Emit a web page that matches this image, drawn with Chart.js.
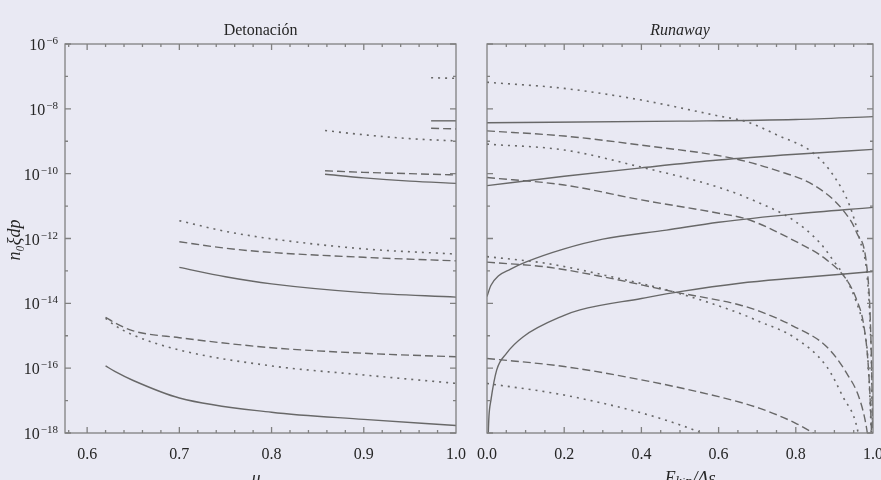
<!DOCTYPE html>
<html>
<head>
<meta charset="utf-8">
<script src="https://cdn.jsdelivr.net/npm/chart.js@4.4.1/dist/chart.umd.min.js"></script>
<style>
  html, body { margin: 0; padding: 0; background: #e9e9f3; }
  body { width: 881px; height: 480px; position: relative; overflow: hidden; }
  canvas { position: absolute; top: 0; }
  #left { left: 0; }
  #right { left: 470px; }
</style>
</head>
<body>
<canvas id="left" width="470" height="480"></canvas>
<canvas id="right" width="411" height="480"></canvas>
<script>
// y values are stored as log10 of the plotted quantity
const yDecades = [-18, -17, -16, -15, -14, -13, -12, -11, -10, -9, -8, -7, -6];

// Detonación panel
const detTicks = [0.6, 0.7, 0.8, 0.9, 1.0];
const detX_A = [0.62, 0.63, 0.65, 0.7, 0.8, 0.9, 1.0];
const detSolidA = [-15.93, -16.1, -16.38, -16.92, -17.36, -17.58, -17.77];
const detDashA = [-14.43, -14.6, -14.85, -15.06, -15.37, -15.54, -15.65];
const detDotA = [-14.46, -14.68, -14.98, -15.44, -15.93, -16.21, -16.47];

const detX_B = [0.7, 0.75, 0.8, 0.9, 1.0];
const detDotB = [-11.45, -11.78, -12.01, -12.32, -12.48];
const detDashB = [-12.10, -12.30, -12.43, -12.58, -12.69];
const detSolidB = [-12.89, -13.18, -13.40, -13.67, -13.81];

const detX_C = [0.858, 0.9, 0.95, 1.0];
const detDotC = [-8.67, -8.80, -8.92, -8.99];
const detDashC = [-9.91, -9.96, -10.0, -10.04];
const detSolidC = [-10.02, -10.13, -10.23, -10.30];

const detX_D = [0.973, 1.0];
const detDotD = [-7.04, -7.06];
const detSolidD = [-8.37, -8.37];
const detDashD = [-8.60, -8.62];

// Runaway panel
const runTicks = [0.0, 0.2, 0.4, 0.6, 0.8, 1.0];
const runSolid1X = [0, 0.5, 0.8, 1.0];
const runSolid1 = [-8.43, -8.38, -8.33, -8.24];
const runSolid2X = [0, 0.2, 0.4, 0.6, 0.8, 1.0];
const runSolid2 = [-10.37, -10.08, -9.82, -9.58, -9.40, -9.25];
const runSolid3X = [0, 0.01, 0.03, 0.06, 0.1, 0.2, 0.3, 0.465, 0.6, 0.8, 1.0];
const runSolid3 = [-13.79, -13.45, -13.15, -12.95, -12.73, -12.32, -12.02, -11.74, -11.50, -11.24, -11.04];
const runSolid4X = [0.0005, 0.005, 0.01, 0.025, 0.05, 0.094, 0.2, 0.241, 0.4, 0.5, 0.655, 0.8, 1.0];
const runSolid4 = [-19, -17.5, -17.0, -16.06, -15.55, -15.03, -14.37, -14.2, -13.85, -13.64, -13.38, -13.22, -13.02];

const runDot1X = [0, 0.2, 0.4, 0.6, 0.673, 0.75, 0.846, 0.9, 0.94, 0.966, 0.984, 0.992, 0.997, 0.9995];
const runDot1 = [-7.18, -7.37, -7.73, -8.22, -8.40, -8.80, -9.37, -10.10, -11.0, -12.05, -13.06, -14.5, -16.5, -19];
const runDash1X = [0, 0.2, 0.4, 0.638, 0.75, 0.846, 0.922, 0.958, 0.984, 0.993, 0.998, 1.0];
const runDash1 = [-8.68, -8.84, -9.12, -9.53, -9.90, -10.35, -11.12, -11.83, -12.87, -14.5, -17, -19];
const runDot2X = [0, 0.2, 0.4, 0.6, 0.707, 0.793, 0.863, 0.896, 0.932, 0.955, 0.975, 0.986, 0.993, 0.998];
const runDot2 = [-9.09, -9.27, -9.80, -10.42, -10.91, -11.43, -12.14, -12.66, -13.28, -13.9, -14.7, -15.6, -17.2, -19];
const runDash2X = [0, 0.2, 0.4, 0.6, 0.673, 0.793, 0.88, 0.932, 0.958, 0.975, 0.987, 0.994, 0.999];
const runDash2 = [-10.12, -10.35, -10.81, -11.22, -11.40, -12.05, -12.66, -13.28, -13.9, -14.6, -15.8, -17.3, -19];
const runDot3X = [0, 0.155, 0.3, 0.482, 0.655, 0.707, 0.793, 0.88, 0.922, 0.958, 0.975];
const runDot3 = [-12.56, -12.77, -13.12, -13.64, -14.31, -14.57, -15.03, -15.95, -16.88, -17.8, -19];
const runDash3X = [0, 0.155, 0.3, 0.482, 0.655, 0.707, 0.793, 0.88, 0.932, 0.966, 0.984, 0.995];
const runDash3 = [-12.73, -12.88, -13.18, -13.64, -14.05, -14.25, -14.70, -15.34, -16.16, -16.98, -17.9, -19];
const runDot4X = [0, 0.2, 0.4, 0.5, 0.6];
const runDot4 = [-16.47, -16.83, -17.38, -17.75, -18.2];
const runDash4X = [0, 0.2, 0.4, 0.6, 0.707, 0.8, 0.86];
const runDash4 = [-15.70, -15.95, -16.36, -16.88, -17.24, -17.7, -18.1];

const LINE = '#686868';
const FRAME = '#808080';
const TEXT = '#262626';
const SERIF = '"Liberation Serif", "DejaVu Serif", serif';

const styles = {
    solid: { borderDash: [], borderWidth: 1.4 },
    dash: { borderDash: [8, 4], borderWidth: 1.4 },
    dot: { borderDash: [2, 5], borderWidth: 1.6 }
};

function series(xs, exps, kind) {
    return {
        data: xs.map((x, i) => ({ x: x, y: Math.pow(10, exps[i]) })),
        borderColor: LINE,
        borderWidth: styles[kind].borderWidth,
        borderDash: styles[kind].borderDash,
        pointRadius: 0,
        fill: false,
        cubicInterpolationMode: 'monotone'
    };
}

// frame, inward ticks, y labels, panel title and axis caption
function panelPlugin(cfg) {
    return {
        id: 'panel',
        afterDraw(chart) {
            const ctx = chart.ctx;
            const a = chart.chartArea;
            const xs = chart.scales.x, ys = chart.scales.y;
            ctx.save();
            ctx.strokeStyle = FRAME;
            ctx.lineWidth = 1.3;
            ctx.strokeRect(a.left, a.top, a.right - a.left, a.bottom - a.top);

            ctx.beginPath();
            cfg.xMinor.forEach(v => {
                const px = xs.getPixelForValue(v);
                if (px < a.left + 1 || px > a.right - 1) return;
                const major = cfg.xMajor.some(m => Math.abs(m - v) < 1e-6);
                const len = major ? 6 : 3;
                ctx.moveTo(px, a.bottom); ctx.lineTo(px, a.bottom - len);
                ctx.moveTo(px, a.top); ctx.lineTo(px, a.top + len);
            });
            yDecades.forEach(e => {
                const py = ys.getPixelForValue(Math.pow(10, e));
                const len = (e % 2 === 0) ? 6 : 3;
                ctx.moveTo(a.left, py); ctx.lineTo(a.left + len, py);
                ctx.moveTo(a.right, py); ctx.lineTo(a.right - len, py);
            });
            ctx.stroke();

            ctx.fillStyle = TEXT;

            if (cfg.yLabels) {
                yDecades.filter(e => e % 2 === 0).forEach(e => {
                    const py = ys.getPixelForValue(Math.pow(10, e));
                    const exp = '\u2212' + Math.abs(e);
                    ctx.font = '11px ' + SERIF;
                    const ew = ctx.measureText(exp).width;
                    const right = a.left - 7;
                    ctx.textAlign = 'left';
                    ctx.textBaseline = 'alphabetic';
                    ctx.fillText(exp, right - ew, py);
                    ctx.font = '16px ' + SERIF;
                    ctx.textAlign = 'right';
                    ctx.fillText('10', right - ew - 1, py + 6);
                });
            }

            ctx.textAlign = 'center';
            ctx.textBaseline = 'alphabetic';
            ctx.font = (cfg.italic ? 'italic ' : '') + '16px ' + SERIF;
            ctx.fillText(cfg.title, (a.left + a.right) / 2, 35);

            ctx.font = 'italic 18px ' + SERIF;
            ctx.textBaseline = 'top';
            ctx.fillText(cfg.xTitle, cfg.xTitleX, 470);

            if (cfg.yTitle) {
                ctx.translate(15, 240);
                ctx.rotate(-Math.PI / 2);
                ctx.textBaseline = 'middle';
                ctx.font = 'italic 18px ' + SERIF;
                ctx.fillText(cfg.yTitle, 0, 0);
            }
            ctx.restore();
        }
    };
}

function makeChart(id, datasets, xMin, xMax, xMajor, xMinor, opts) {
    const panel = Object.assign({ xMajor: xMajor, xMinor: xMinor, yLabels: opts.yLabels }, opts.panel);
    new Chart(document.getElementById(id), {
        type: 'line',
        data: { datasets: datasets },
        options: {
            responsive: false,
            animation: false,
            layout: { padding: { top: 44, right: opts.padRight, left: 0, bottom: 0 } },
            plugins: { legend: { display: false }, tooltip: { enabled: false } },
            scales: {
                x: {
                    type: 'linear',
                    min: xMin,
                    max: xMax,
                    grid: { display: false },
                    border: { display: false },
                    afterBuildTicks: s => { s.ticks = xMajor.map(v => ({ value: v })); },
                    afterFit: s => { s.height = 47; s.paddingLeft = 0; s.paddingRight = 0; },
                    ticks: {
                        padding: 4,
                        maxRotation: 0,
                        color: TEXT,
                        font: { family: SERIF, size: 16 },
                        callback: v => Number(v).toFixed(1)
                    }
                },
                y: {
                    type: 'logarithmic',
                    min: 1e-18,
                    max: 1e-6,
                    grid: { display: false },
                    border: { display: false },
                    afterBuildTicks: s => { s.ticks = yDecades.map(e => ({ value: Math.pow(10, e) })); },
                    afterFit: s => { s.width = opts.yWidth; s.paddingTop = 0; s.paddingBottom = 0; },
                    ticks: { display: false }
                }
            }
        },
        plugins: [panelPlugin(panel)]
    });
}

const detMinor = [];
for (let v = 0.58; v <= 1.0001; v += 0.02) detMinor.push(Math.round(v * 100) / 100);
const runMinor = [];
for (let v = 0; v <= 1.0001; v += 0.05) runMinor.push(Math.round(v * 100) / 100);

makeChart('left', [
    series(detX_A, detSolidA, 'solid'),
    series(detX_A, detDashA, 'dash'),
    series(detX_A, detDotA, 'dot'),
    series(detX_B, detSolidB, 'solid'),
    series(detX_B, detDashB, 'dash'),
    series(detX_B, detDotB, 'dot'),
    series(detX_C, detSolidC, 'solid'),
    series(detX_C, detDashC, 'dash'),
    series(detX_C, detDotC, 'dot'),
    series(detX_D, detSolidD, 'solid'),
    series(detX_D, detDashD, 'dash'),
    series(detX_D, detDotD, 'dot')
], 0.576, 1.0, detTicks, detMinor, {
    padRight: 14, yWidth: 65, yLabels: true,
    panel: { title: 'Detonación', italic: false, xTitle: 'μ', xTitleX: 256, yTitle: 'n\u2080\u03BEdp' }
});

makeChart('right', [
    series(runSolid1X, runSolid1, 'solid'),
    series(runSolid2X, runSolid2, 'solid'),
    series(runSolid3X, runSolid3, 'solid'),
    series(runSolid4X, runSolid4, 'solid'),
    series(runDot1X, runDot1, 'dot'),
    series(runDash1X, runDash1, 'dash'),
    series(runDot2X, runDot2, 'dot'),
    series(runDash2X, runDash2, 'dash'),
    series(runDot3X, runDot3, 'dot'),
    series(runDash3X, runDash3, 'dash'),
    series(runDot4X, runDot4, 'dot'),
    series(runDash4X, runDash4, 'dash')
], 0, 1.0, runTicks, runMinor, {
    padRight: 8, yWidth: 17, yLabels: false,
    panel: { title: 'Runaway', italic: true, xTitle: 'E\u2096\u1D62\u2099/\u0394\u03B5', xTitleX: 220 }
});
</script>
</body>
</html>
